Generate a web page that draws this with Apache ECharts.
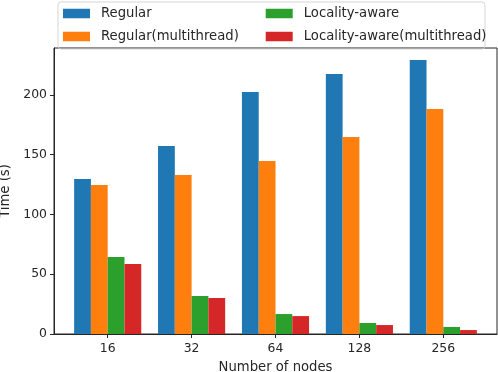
<!DOCTYPE html>
<html><head><meta charset="utf-8">
<script src="https://cdn.jsdelivr.net/npm/echarts@6/dist/echarts.min.js"></script>
<style>html,body{margin:0;padding:0;background:#fff}#c{width:498px;height:372px}</style>
</head><body><div id="c"></div>
<script>
const categories = ['16', '32', '64', '128', '256'];
const seriesNames = ['Regular', 'Regular(multithread)', 'Locality-aware', 'Locality-aware(multithread)'];
const legendCol1 = ['Regular', 'Regular(multithread)'];
const legendCol2 = ['Locality-aware', 'Locality-aware(multithread)'];
const regular = [129.7, 157.3, 202.5, 217.6, 229.3];
const regularMT = [124.7, 133.0, 144.8, 164.9, 188.3];
const locality = [64.4, 31.8, 16.7, 9.2, 5.9];
const localityMT = [58.6, 30.1, 15.0, 7.5, 3.3];
const yTicks = [0, 50, 100, 150, 200];

const colors = ['#1f77b4', '#ff7f0e', '#2ca02c', '#d62728'];
const allValues = [regular, regularMT, locality, localityMT];
const FONT = 'DejaVu Sans';
const TXT = '#262626';
const FS = 13.2, TFS = 12.4;

const legendBase = {
  orient: 'vertical', top: 2,
  itemWidth: 27, itemHeight: 9.5, itemGap: 10,
  icon: 'rect',
  textStyle: {fontFamily: FONT, fontSize: FS, color: TXT, lineHeight: 10, padding: [0, 0, 0, 6]}
};

const chart = echarts.init(document.getElementById('c'), null, {renderer: 'canvas'});
chart.setOption({
  animation: false,
  color: colors,
  textStyle: {fontFamily: FONT},
  grid: {left: 54, right: 1, top: 48, bottom: 38, outerBoundsMode: 'none', containLabel: false,
    show: true, borderColor: TXT, borderWidth: 1, backgroundColor: 'transparent'},
  legend: [
    Object.assign({}, legendBase, {
      data: legendCol1, left: 58,
      padding: [5, 204, 6, 5],
      borderColor: 'rgba(204,204,204,0.8)', borderWidth: 1, borderRadius: 3,
      textStyle: Object.assign({}, legendBase.textStyle, {width: 180})
    }),
    Object.assign({}, legendBase, {
      data: legendCol2, left: 260.7,
      padding: [5, 5, 6, 5]
    })
  ],
  xAxis: {
    type: 'value', min: -0.64, max: 4.64,
    name: 'Number of nodes', nameLocation: 'middle', nameGap: 27,
    nameTextStyle: {fontFamily: FONT, fontSize: FS, color: TXT},
    axisLine: {show: true, onZero: false, lineStyle: {color: TXT, width: 1}},
    axisTick: {show: true, length: 4, lineStyle: {color: TXT}, customValues: [0, 1, 2, 3, 4]},
    axisLabel: {fontFamily: FONT, fontSize: TFS, color: TXT, margin: 9, customValues: [0, 1, 2, 3, 4],
      formatter: v => categories[Math.round(v)] ?? ''},
    splitLine: {show: false}
  },
  yAxis: {
    type: 'value', min: 0, max: 239.3, interval: 50,
    name: 'Time (s)', nameLocation: 'middle', nameGap: 38,
    nameTextStyle: {fontFamily: FONT, fontSize: FS, color: TXT},
    axisLine: {show: true, onZero: false, lineStyle: {color: TXT, width: 1}},
    axisTick: {show: true, length: 4, lineStyle: {color: TXT}, customValues: yTicks},
    axisLabel: {fontFamily: FONT, fontSize: TFS, color: TXT, margin: 7, customValues: yTicks},
    splitLine: {show: false}
  },
  series: seriesNames.map((name, i) => ({
    name, type: 'bar',
    barWidth: '20%', barGap: '0%',
    data: allValues[i].map((v, k) => [k, v]),
    itemStyle: {color: colors[i]}
  }))
});
</script></body></html>
